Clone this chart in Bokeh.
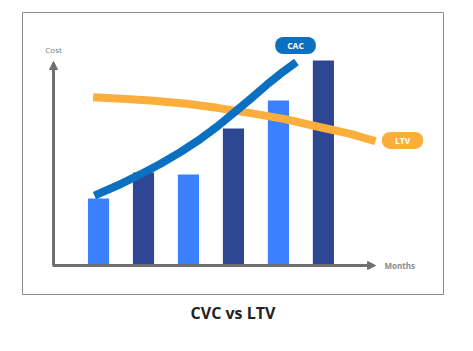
from bokeh.plotting import figure
from bokeh.models import Range1d, Arrow, NormalHead, Label, Title
from bokeh.embed import file_html
from bokeh.resources import INLINE

# ---- data ----
months = [1, 2, 3, 4, 5, 6]
bar_cost = [32.7, 45.4, 44.4, 66.8, 80.5, 100.0]
bar_colors = ["#3A80FF", "#2E4794", "#3A80FF", "#2E4794", "#3A80FF", "#2E4794"]

cac_x = [0.91, 1.42, 1.93, 2.38, 2.82, 3.27, 3.64, 4.00, 4.38, 4.75, 5.12, 5.40]
cac_y = [34.1, 39.0, 44.4, 49.6, 55.3, 61.8, 67.8, 74.3, 81.3, 88.3, 94.8, 99.2]

ltv_x = [0.88, 1.42, 2.16, 2.96, 3.64, 4.38, 5.12, 5.86, 6.60, 7.16]
ltv_y = [82.1, 81.5, 80.5, 78.9, 76.9, 74.3, 71.5, 67.8, 64.2, 60.6]

axis_x_end = 7.16
axis_y_end = 99.5

title_text = "CVC vs LTV"

BLUE = "#0A70BF"
ORANGE = "#FBAE3C"
GRAY = "#6F6F6F"

p = figure(width=473, height=351, output_backend="svg", toolbar_location=None,
           x_range=Range1d(-0.69, 8.67), y_range=Range1d(-14.15, 123.4),
           min_border_left=22, min_border_right=30, min_border_top=12, min_border_bottom=57)
p.xaxis.visible = False
p.yaxis.visible = False
p.grid.visible = False
p.outline_line_color = "#8C8C8C"
p.outline_line_width = 1
p.background_fill_color = "white"
p.border_fill_color = "white"

# bars
p.vbar(x=months, top=bar_cost, bottom=0, width=0.47, fill_color=bar_colors,
       line_color=None)

# axes with arrows
p.add_layout(Arrow(x_start=0, y_start=0, x_end=0, y_end=axis_y_end,
                   line_color=GRAY, line_width=3,
                   end=NormalHead(size=8, fill_color=GRAY, line_color=GRAY)))
p.add_layout(Arrow(x_start=-0.02, y_start=0, x_end=axis_x_end, y_end=0,
                   line_color=GRAY, line_width=3,
                   end=NormalHead(size=8, fill_color=GRAY, line_color=GRAY)))

# lines
p.line(ltv_x, ltv_y, line_color=ORANGE, line_width=8, line_cap="butt", line_join="round")
p.line(cac_x, cac_y, line_color=BLUE, line_width=8, line_cap="butt", line_join="round")

# axis labels
p.add_layout(Label(x=0, y=105.4, text="Cost", text_align="center", text_baseline="middle",
                   text_font="Open Sans", text_font_size="8px", text_color="#7A7A7A"))
p.add_layout(Label(x=7.36, y=0, text="Months", text_align="left", text_baseline="middle",
                   text_font="Open Sans", text_font_size="8px", text_font_style="bold",
                   text_color="#8A8A8A"))

# pills
p.add_layout(Label(x=5.38, y=107.3, text="CAC", text_align="center", text_baseline="middle",
                   text_font="Open Sans", text_font_size="8.5px", text_font_style="bold",
                   text_color="white", background_fill_color=BLUE, border_radius=8,
                   padding=dict(left=12, right=12, top=3, bottom=3)))
p.add_layout(Label(x=7.76, y=61.0, text="LTV", text_align="center", text_baseline="middle",
                   text_font="Open Sans", text_font_size="8.5px", text_font_style="bold",
                   text_color="white", background_fill_color=ORANGE, border_radius=8,
                   padding=dict(left=13, right=13, top=3, bottom=3)))

# title below
p.add_layout(Title(text=title_text, align="center", text_font="Open Sans",
                   text_font_size="16px", text_font_style="bold", text_color="#222222",
                   standoff=11), "below")

open("out.html", "w").write(file_html(p, INLINE))
